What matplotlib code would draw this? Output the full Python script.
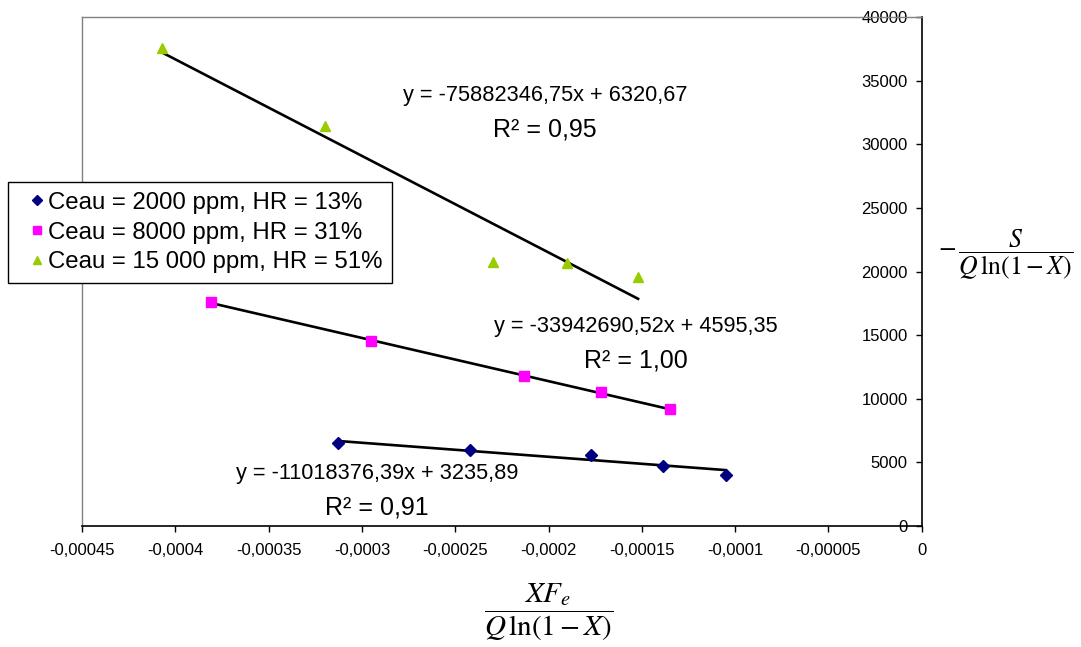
import numpy as np
import matplotlib
matplotlib.use('Agg')
import matplotlib.pyplot as plt

plt.rcParams['font.family'] = ['Liberation Sans', 'DejaVu Sans']

# data
x_13 = [-0.000313, -0.000242, -0.000177, -0.0001385, -0.000105]
y_13 = [6520, 5970, 5600, 4740, 4030]

x_31 = [-0.000381, -0.000295, -0.000213, -0.000172, -0.000135]
y_31 = [17600, 14540, 11790, 10530, 9190]

x_51 = [-0.000407, -0.00032, -0.00023, -0.00019, -0.000152]
y_51 = [37560, 31430, 20750, 20700, 19570]

labels = ['Ceau = 2000 ppm, HR = 13%', 'Ceau = 8000 ppm, HR = 31%', 'Ceau = 15 000 ppm, HR = 51%']

# trend lines (slope, intercept, R2) as printed on the chart
slopes = [-11018376.39, -33942690.52, -75882346.75]
intercepts = [3235.89, 4595.35, 6320.67]
r2 = ['0,91', '1,00', '0,95']
eq_text = ['y = -11018376,39x + 3235,89', 'y = -33942690,52x + 4595,35', 'y = -75882346,75x + 6320,67']

x_ticks = [-0.00045, -0.0004, -0.00035, -0.0003, -0.00025, -0.0002, -0.00015, -0.0001, -0.00005, 0]
x_tick_labels = ['-0,00045', '-0,0004', '-0,00035', '-0,0003', '-0,00025', '-0,0002',
                 '-0,00015', '-0,0001', '-0,00005', '0']
y_ticks = [0, 5000, 10000, 15000, 20000, 25000, 30000, 35000, 40000]


def main():
	fig = plt.figure(figsize=(10.81, 6.47), dpi=100)
	ax = fig.add_axes([82 / 1081, 1 - 526 / 647, 839.7 / 1081, 509 / 647])

	series = [(x_13, y_13, 'D', '#000080', 6),
	          (x_31, y_31, 's', '#FF00FF', 6.5),
	          (x_51, y_51, '^', '#99CC00', 7.5)]
	handles = []
	for i, (xs, ys, m, c, ms) in enumerate(series):
		h, = ax.plot(xs, ys, linestyle='none', marker=m, color=c, markersize=ms,
		             markeredgecolor=c, label=labels[i], zorder=3)
		handles.append(h)
		xl = np.array([min(xs), max(xs)])
		ax.plot(xl, slopes[i] * xl + intercepts[i], color='black', linewidth=1.9, zorder=2)

	# equations
	pos = [(-0.000292, 4165, 1415), (-0.000153, 15640, 13045), (-0.000202, 33870, 31120)]
	for i, (px, py_eq, py_r) in enumerate(pos):
		ax.text(px, py_eq, eq_text[i], ha='center', va='center', fontsize=15.7)
		ax.text(px, py_r, 'R² = ' + r2[i], ha='center', va='center', fontsize=18)

	ax.set_xlim(-0.00045, 0)
	ax.set_ylim(0, 40000)
	ax.set_xticks(x_ticks)
	ax.set_xticklabels(x_tick_labels)
	ax.set_yticks(y_ticks)
	ax.set_yticklabels([str(v) for v in y_ticks])

	ax.tick_params(axis='x', direction='out', length=4, width=1, labelsize=12, pad=8)
	ax.tick_params(axis='y', left=False, labelleft=False, right=True, labelright=True,
	               direction='in', length=4, width=1, labelsize=12, pad=-10)
	for t in ax.get_yticklabels():
		t.set_horizontalalignment('right')

	for s in ['top', 'left']:
		ax.spines[s].set_color('#808080')
		ax.spines[s].set_linewidth(1)
	for s in ['right', 'bottom']:
		ax.spines[s].set_color('black')
		ax.spines[s].set_linewidth(1.2)

	leg = fig.legend(handles=handles, loc='upper left', bbox_to_anchor=(8 / 1081, 1 - 182 / 647),
	                 fontsize=17.3, frameon=True, fancybox=False, framealpha=1,
	                 handlelength=1.62, handletextpad=-0.35, borderpad=0.4, labelspacing=0.33,
	                 markerscale=0.8, borderaxespad=0)
	leg.get_frame().set_edgecolor('black')
	leg.get_frame().set_linewidth(1)

	# axis titles
	fig.text(549 / 1081, 1 - 612 / 647, r'$\dfrac{XF_e}{Q\,\ln(1-X)}$', ha='center', va='center',
	         fontsize=21, math_fontfamily='stix')
	fig.text(1006 / 1081, 1 - 254 / 647, r'$-\,\dfrac{S}{Q\,\ln(1-X)}$', ha='center', va='center',
	         fontsize=18.5, math_fontfamily='stix')

	fig.savefig('out.png', dpi=100)


if __name__ == "__main__":
	main()
